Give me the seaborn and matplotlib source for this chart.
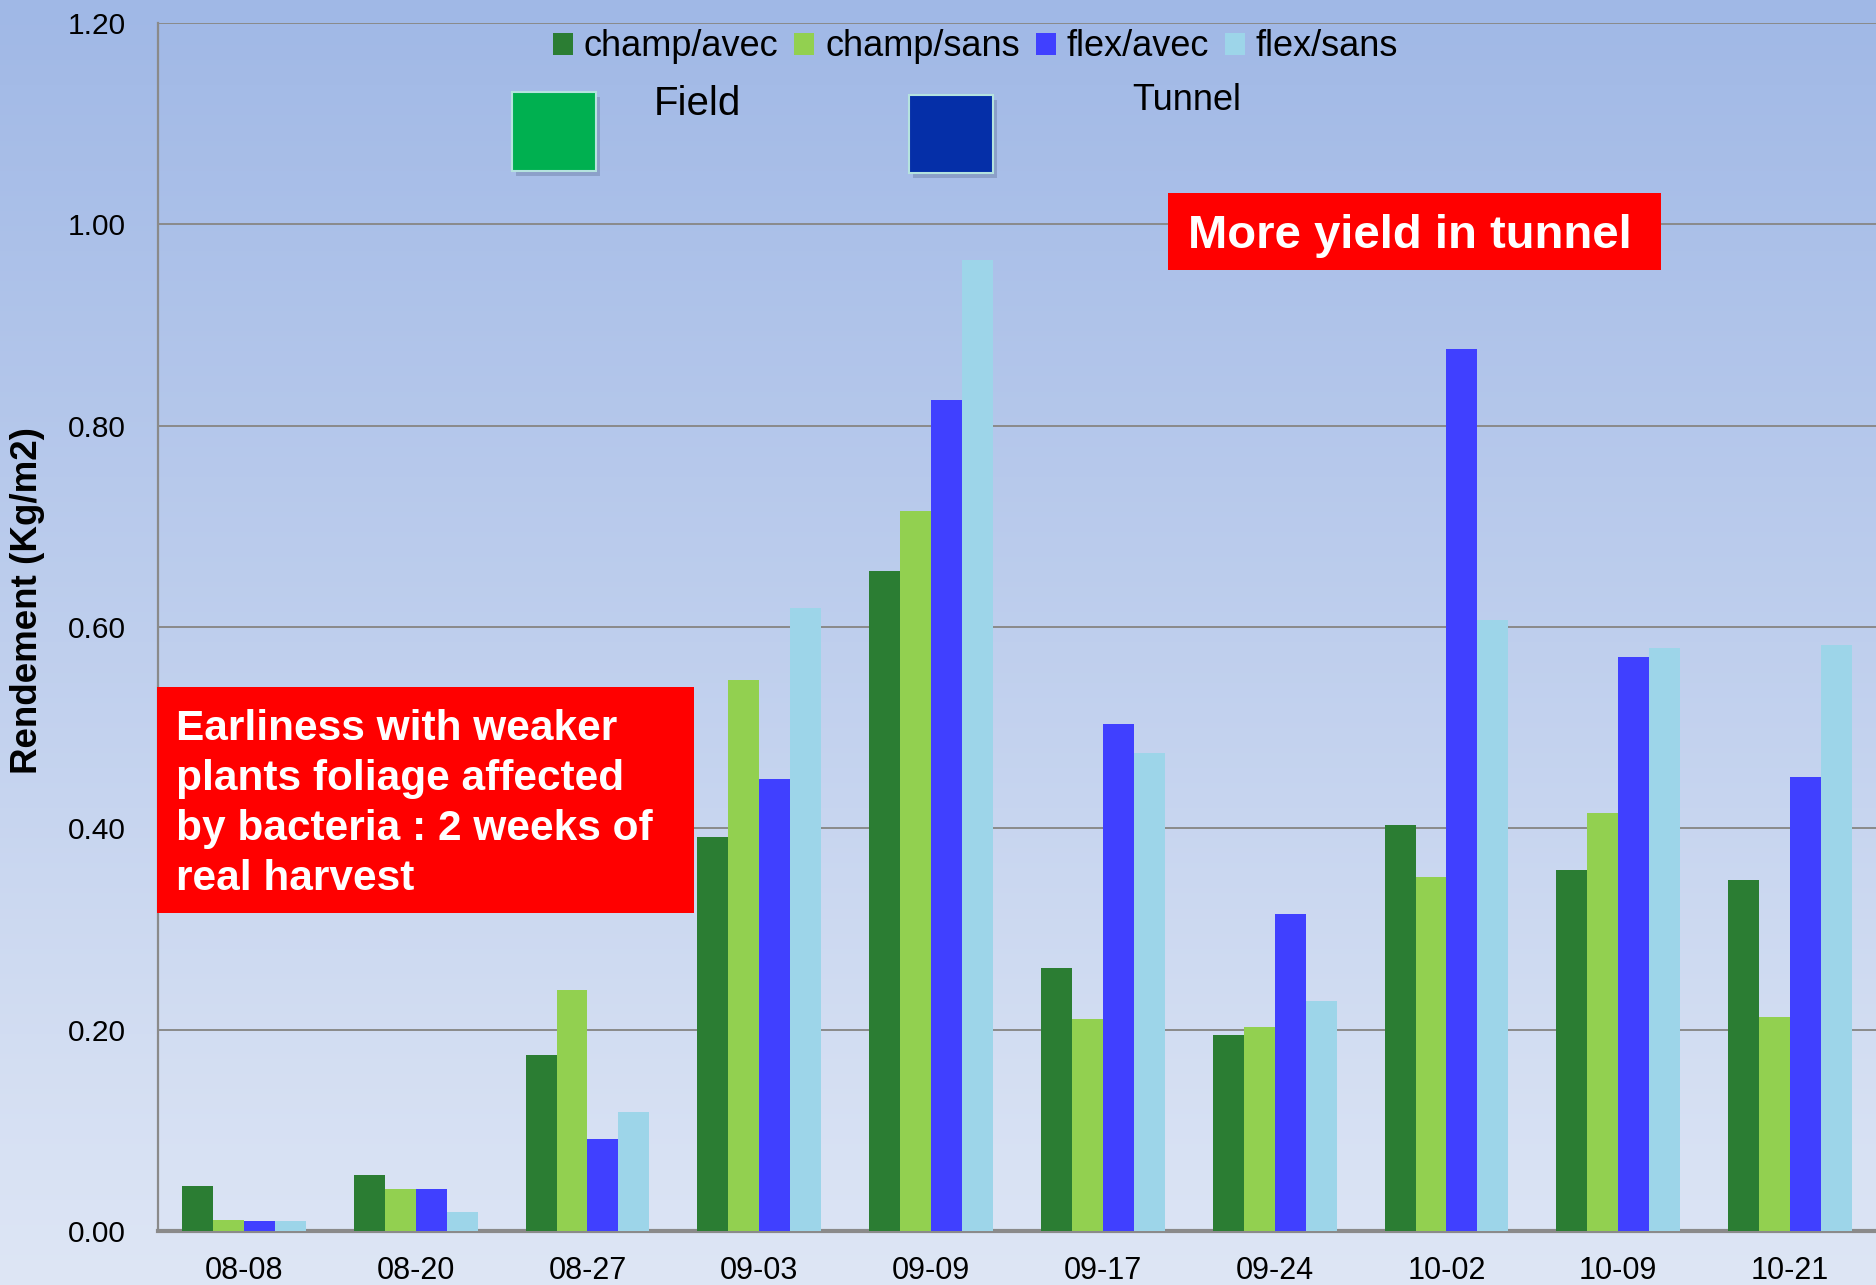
import numpy as np
import pandas as pd
import matplotlib
matplotlib.use("Agg")
import matplotlib.pyplot as plt
import seaborn as sns
from matplotlib.patches import Patch, Rectangle
from matplotlib.ticker import FormatStrFormatter

# --- data ---
dates = ["08-08", "08-20", "08-27", "09-03", "09-09",
         "09-17", "09-24", "10-02", "10-09", "10-21"]
series = ["champ/avec", "champ/sans", "flex/avec", "flex/sans"]
champ_avec = [0.045, 0.056, 0.175, 0.391, 0.656, 0.261, 0.195, 0.403, 0.359, 0.349]
champ_sans = [0.011, 0.042, 0.239, 0.547, 0.715, 0.211, 0.203, 0.352, 0.415, 0.213]
flex_avec = [0.0095, 0.042, 0.091, 0.449, 0.826, 0.504, 0.315, 0.876, 0.570, 0.451]
flex_sans = [0.0095, 0.019, 0.118, 0.619, 0.965, 0.475, 0.229, 0.607, 0.579, 0.582]
colors = ["#2B7D33", "#92D050", "#4040FF", "#9DD5E9"]

df = pd.DataFrame({
    "date": dates * 4,
    "serie": np.repeat(series, len(dates)),
    "rendement": champ_avec + champ_sans + flex_avec + flex_sans,
})

sns.set_style("white")
plt.rcParams["font.family"] = ["Liberation Sans", "DejaVu Sans"]
plt.rcParams.update({
    "text.color": "black",
    "axes.labelcolor": "black",
    "xtick.color": "black",
    "ytick.color": "black",
})

fig = plt.figure(figsize=(18.76, 12.85), dpi=100)

# background gradient
bg = fig.add_axes([0, 0, 1, 1], zorder=-10)
top = np.array([160, 184, 230]) / 255
bot = np.array([222, 230, 245]) / 255
t = np.linspace(0, 1, 256)[:, None]
grad = (top * (1 - t) + bot * t)[:, None, :]
bg.imshow(grad, aspect="auto", extent=[0, 1, 0, 1])
bg.axis("off")

ax = fig.add_axes([0.0842, 0.042, 0.9158, 0.940])
ax.set_facecolor("none")

sns.barplot(data=df, x="date", y="rendement", hue="serie", order=dates,
            hue_order=series, palette=colors, saturation=1, width=0.72,
            gap=0, linewidth=0, legend=False, ax=ax, zorder=3)

ax.set_xlim(-0.5, len(dates) - 0.5)
ax.set_ylim(0, 1.2)
ax.set_yticks(np.arange(0, 1.21, 0.2))
ax.yaxis.set_major_formatter(FormatStrFormatter("%.2f"))
ax.grid(axis="y", color="#8a8a8a", linewidth=1.4, zorder=0)
ax.set_axisbelow(True)

for s in ["top", "right"]:
    ax.spines[s].set_visible(False)
ax.spines["left"].set_color("#8a8a8a")
ax.spines["left"].set_linewidth(1.6)
ax.spines["bottom"].set_color("#8a8a8a")
ax.spines["bottom"].set_linewidth(3)

ax.tick_params(axis="y", length=9, width=1.4, color="#8a8a8a", labelcolor="black",
               pad=14, labelsize=21.5)
ax.tick_params(axis="x", length=0, pad=18, labelsize=22, labelcolor="black")

ax.set_xlabel("")
ax.set_ylabel("Rendement (Kg/m2)", fontsize=26.5, fontweight="bold")
ax.yaxis.set_label_coords(-0.066, 0.522)

handles = [Patch(facecolor=c, edgecolor="none") for c in colors]
fig.legend(handles, series, loc="center", bbox_to_anchor=(0.52, 0.9635),
           ncol=4, frameon=False, fontsize=26, handlelength=0.55,
           handleheight=0.55, handletextpad=0.3, columnspacing=0.45)

# Field / Tunnel colour keys
W, H = 1876, 1285


def fig_rect(x0, y0, x1, y1, **kw):
    return Rectangle((x0 / W, 1 - y1 / H), (x1 - x0) / W, (y1 - y0) / H,
                     transform=fig.transFigure, **kw)


fig.patches.append(fig_rect(516, 97, 600, 176, facecolor="#5a6a90", alpha=0.35, edgecolor="none"))
fig.patches.append(fig_rect(512, 92, 596, 171, facecolor="#00B050", edgecolor="#B5E3DF", linewidth=1.5))
fig.patches.append(fig_rect(913, 100, 997, 178, facecolor="#5a6a90", alpha=0.35, edgecolor="none"))
fig.patches.append(fig_rect(909, 95, 993, 173, facecolor="#052FA8", edgecolor="#B5E3DF", linewidth=1.5))
fig.text(654 / W, 1 - 104 / H, "Field", fontsize=29, va="center", ha="left")
fig.text(1132 / W, 1 - 100 / H, "Tunnel", fontsize=26, va="center", ha="left")

# red annotation boxes
fig.patches.append(fig_rect(1168, 193, 1661, 270, facecolor="#FF0000", edgecolor="none"))
fig.text(1188 / W, 1 - 236 / H, "More yield in tunnel", fontsize=34,
         fontweight="bold", color="white", va="center", ha="left")

fig.patches.append(fig_rect(157, 687, 694, 913, facecolor="#FF0000", edgecolor="none"))
fig.text(176 / W, 1 - 804 / H,
         "Earliness with weaker\nplants foliage affected\nby bacteria : 2 weeks of\nreal harvest",
         fontsize=30.5, fontweight="bold", color="white", va="center", ha="left",
         linespacing=1.33)

fig.savefig("out.png", dpi=100)
